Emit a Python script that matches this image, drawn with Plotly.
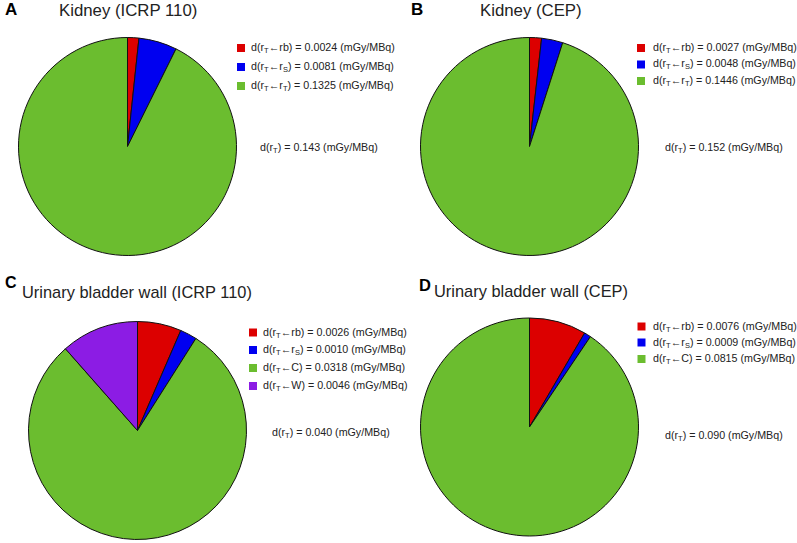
import plotly.graph_objects as go

W, H = 797, 543

# ---- data ----
panels = ["A", "B", "C", "D"]
titles = ["Kidney (ICRP 110)", "Kidney (CEP)",
          "Urinary bladder wall (ICRP 110)", "Urinary bladder wall (CEP)"]

labels_A = ["rb", "r<sub>S</sub>", "r<sub>T</sub>"]
values_A = [0.0024, 0.0081, 0.1325]
total_A = "0.143"

labels_B = ["rb", "r<sub>S</sub>", "r<sub>T</sub>"]
values_B = [0.0027, 0.0048, 0.1446]
total_B = "0.152"

labels_C = ["rb", "r<sub>S</sub>", "C", "W"]
values_C = [0.0026, 0.0010, 0.0318, 0.0046]
total_C = "0.040"

labels_D = ["rb", "r<sub>S</sub>", "C"]
values_D = [0.0076, 0.0009, 0.0815]
total_D = "0.090"

colors_3 = ["#dc0000", "#0000f0", "#6bbd2f"]
colors_4 = ["#dc0000", "#0000f0", "#6bbd2f", "#8c1ce4"]

# ---- layout helpers (pixel -> paper) ----
def px(x):
    return x / W

def py(y):
    return 1 - y / H

# pie centers and radius (pixels)
centers = [(127.5, 146.5), (529.5, 146.5), (137.5, 430.5), (529.5, 427)]
R = 109

data = [(labels_A, values_A, total_A, colors_3),
        (labels_B, values_B, total_B, colors_3),
        (labels_C, values_C, total_C, colors_4),
        (labels_D, values_D, total_D, colors_3)]

fig = go.Figure()
for (labs, vals, tot, cols), (cx, cy) in zip(data, centers):
    fig.add_trace(go.Pie(
        labels=labs, values=vals, sort=False, direction="clockwise", rotation=0,
        marker=dict(colors=cols, line=dict(color="#111111", width=1)),
        textinfo="none", hoverinfo="label+value", showlegend=False,
        domain=dict(x=[px(cx - R), px(cx + R)], y=[py(cy + R), py(cy - R)]),
    ))

FONT = "Arial, Liberation Sans, sans-serif"
TXT = "#222222"
annotations = []
shapes = []

# panel letters and titles
letter_pos = [(3, 10), (409, 10), (3, 282), (417, 285)]
letter_size = [17, 17, 16, 16.5]
title_pos = [(57, 11), (478, 11), (20, 292), (432, 291)]
title_size = [16.8, 16.8, 16.4, 16.4]
for L, (lx, ly), ls, t, (tx, ty), ts in zip(panels, letter_pos, letter_size, titles, title_pos, title_size):
    annotations.append(dict(text=f"<b>{L}</b>", x=px(lx), y=py(ly), xref="paper", yref="paper",
                            xanchor="left", yanchor="middle", showarrow=False,
                            font=dict(family=FONT, size=ls, color="#000000")))
    annotations.append(dict(text=t, x=px(tx), y=py(ty), xref="paper", yref="paper",
                            xanchor="left", yanchor="middle", showarrow=False,
                            font=dict(family=FONT, size=ts, color=TXT)))

# legends
legend_sq_x = [241, 641, 253, 641.5]
legend_tx_x = [249, 651, 261, 651]
legend_rows = [[48, 67, 86], [48, 64.5, 81], [332.5, 350, 368, 386], [326.5, 342.5, 359]]
total_pos = [(258, 148), (663, 148), (270, 433), (663, 436)]
for (labs, vals, tot, cols), sx, tx, rows, (ttx, tty) in zip(data, legend_sq_x, legend_tx_x, legend_rows, total_pos):
    for lab, v, c, ry in zip(labs, vals, cols, rows):
        shapes.append(dict(type="rect", xref="paper", yref="paper",
                           x0=px(sx - 4), x1=px(sx + 4), y0=py(ry + 4), y1=py(ry - 4),
                           fillcolor=c, line=dict(width=0)))
        annotations.append(dict(
            text=f"d(r<sub>T</sub>\u2190{lab}) = {v:.4f} (mGy/MBq)",
            x=px(tx), y=py(ry), xref="paper", yref="paper",
            xanchor="left", yanchor="middle", showarrow=False,
            font=dict(family=FONT, size=10.7, color=TXT)))
    annotations.append(dict(
        text=f"d(r<sub>T</sub>) = {tot} (mGy/MBq)",
        x=px(ttx), y=py(tty), xref="paper", yref="paper",
        xanchor="left", yanchor="middle", showarrow=False,
        font=dict(family=FONT, size=10.7, color=TXT)))

fig.update_layout(
    width=W, height=H, margin=dict(l=0, r=0, t=0, b=0),
    paper_bgcolor="white", plot_bgcolor="white",
    annotations=annotations, shapes=shapes, showlegend=False,
)

fig.write_html("out.html", config={"displayModeBar": False},
               post_script="document.body.style.margin='0px';document.body.style.padding='0px';")
